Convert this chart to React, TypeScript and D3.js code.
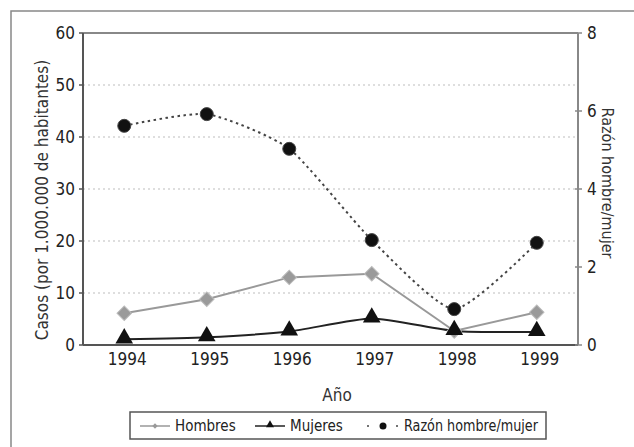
import React from "react";
import * as d3 from "d3";

const years = ["1994", "1995", "1996", "1997", "1998", "1999"];
const hombres = [6.1, 8.8, 13.0, 13.7, 2.7, 6.3];
const mujeres = [1.1, 1.5, 2.6, 5.1, 2.7, 2.5];
const razon = [5.62, 5.92, 5.03, 2.69, 0.92, 2.62];
const leftTicks = [0, 10, 20, 30, 40, 50, 60];
const rightTicks = [0, 2, 4, 6, 8];

const W = 634;
const H = 447;
const font = "'Liberation Sans Narrow', 'DejaVu Sans Condensed', 'Arial Narrow', sans-serif";

export default function App() {
  const left = 83, right = 578, top = 33, bottom = 345;

  const x = d3.scalePoint<string>().domain(years).range([left, right]).padding(0.5);
  const yL = d3.scaleLinear().domain([0, 60]).range([bottom, top]);
  const yR = d3.scaleLinear().domain([0, 8]).range([bottom, top]);

  const hLine = d3.line<number>().x((_, i) => x(years[i])!).y((d) => yL(d));
  const mLine = d3
    .line<number>()
    .x((_, i) => x(years[i])!)
    .y((d) => yL(d))
    .curve(d3.curveCardinal.tension(0.4));
  const rLine = d3
    .line<number>()
    .x((_, i) => x(years[i])!)
    .y((d) => yR(d))
    .curve(d3.curveCardinal.tension(0.4));

  const diamond = d3.symbol(d3.symbolSquare, 105)()!;
  const triangle = d3.symbol(d3.symbolTriangle, 135)()!;
  const smallDiamond = d3.symbol(d3.symbolSquare, 14)()!;
  const smallTriangle = d3.symbol(d3.symbolTriangle, 28)()!;

  return (
    <svg
      width={W}
      height={H}
      style={{ position: "absolute", left: 0, top: 0, background: "#fff" }}
      fontFamily={font}
    >
      {/* outer frame (left and top only) */}
      <path d={`M11,${H} L11,11 L${W},11`} fill="none" stroke="#888" strokeWidth={1.5} />

      {/* gridlines */}
      {leftTicks
        .filter((t) => t > 0 && t < 60)
        .map((t) => (
          <line
            key={t}
            x1={left}
            x2={right}
            y1={yL(t)}
            y2={yL(t)}
            stroke="#bdbdbd"
            strokeWidth={1.2}
            strokeDasharray="2,3"
          />
        ))}

      {/* plot frame */}
      <line x1={left} x2={right} y1={top} y2={top} stroke="#888" strokeWidth={2} />
      <line x1={right} x2={right} y1={top} y2={bottom} stroke="#888" strokeWidth={2} />
      <line x1={left} x2={left} y1={top} y2={bottom} stroke="#555" strokeWidth={2} />
      <line x1={left} x2={right} y1={bottom} y2={bottom} stroke="#555" strokeWidth={2} />

      {/* left axis */}
      {leftTicks.map((t) => (
        <g key={t} transform={`translate(${left},${yL(t)})`}>
          <line x1={-4} x2={0} stroke="#555" strokeWidth={1.5} />
          <text x={-8} dy="0.35em" textAnchor="end" fontSize={17} fill="#222">
            {t}
          </text>
        </g>
      ))}

      {/* right axis */}
      {rightTicks.map((t) => (
        <g key={t} transform={`translate(${right},${yR(t)})`}>
          <line x1={-3} x2={4} stroke="#888" strokeWidth={1.5} />
          <text x={9} dy="0.35em" textAnchor="start" fontSize={17} fill="#222">
            {t}
          </text>
        </g>
      ))}

      {/* x axis labels */}
      {years.map((yr) => (
        <text key={yr} x={x(yr)! + 3} y={365} textAnchor="middle" fontSize={17} fill="#222">
          {yr}
        </text>
      ))}

      {/* axis titles */}
      <text
        transform={`translate(48,200) rotate(-90)`}
        textAnchor="middle"
        fontSize={17}
        fill="#333"
      >
        Casos (por 1.000.000 de habitantes)
      </text>
      <text
        transform={`translate(602,183) rotate(90)`}
        textAnchor="middle"
        fontSize={16}
        fill="#333"
      >
        Razón hombre/mujer
      </text>
      <text x={337} y={401} textAnchor="middle" fontSize={17} fill="#333">
        Año
      </text>

      {/* series: Razón */}
      <path d={rLine(razon)!} fill="none" stroke="#444" strokeWidth={2} strokeDasharray="2.5,3.5" />
      {/* series: Hombres */}
      <path d={hLine(hombres)!} fill="none" stroke="#999" strokeWidth={2} />
      {/* series: Mujeres */}
      <path d={mLine(mujeres)!} fill="none" stroke="#222" strokeWidth={2} />

      {hombres.map((v, i) => (
        <path
          key={"h" + i}
          d={diamond}
          transform={`translate(${x(years[i])},${yL(v)}) rotate(45)`}
          fill="#9a9a9a"
          stroke="#bbb"
          strokeWidth={1}
        />
      ))}
      {mujeres.map((v, i) => (
        <path
          key={"m" + i}
          d={triangle}
          transform={`translate(${x(years[i])},${yL(v) - 1})`}
          fill="#111"
        />
      ))}
      {razon.map((v, i) => (
        <circle key={"r" + i} cx={x(years[i])} cy={yR(v)} r={6.5} fill="#111" stroke="#444" />
      ))}

      {/* legend */}
      <rect x={130} y={412} width={416} height={27} fill="#fff" stroke="#555" strokeWidth={1.5} />
      <g transform="translate(0,426)">
        <line x1={140} x2={170} stroke="#999" strokeWidth={1.5} />
        <path d={smallDiamond} transform="translate(155,0) rotate(45)" fill="#999" />
        <text x={175} dy="0.35em" fontSize={15} fill="#222">
          Hombres
        </text>
        <line x1={255} x2={285} stroke="#222" strokeWidth={1.5} />
        <path d={smallTriangle} transform="translate(270,-1)" fill="#111" />
        <text x={290} dy="0.35em" fontSize={15} fill="#222">
          Mujeres
        </text>
        <circle cx={368} r={1} fill="#444" />
        <circle cx={383} r={3.5} fill="#111" />
        <circle cx={397} r={1} fill="#444" />
        <text
          x={404}
          dy="0.35em"
          fontSize={15}
          fill="#222"
          textLength={134}
          lengthAdjust="spacingAndGlyphs"
        >
          Razón hombre/mujer
        </text>
      </g>
    </svg>
  );
}
